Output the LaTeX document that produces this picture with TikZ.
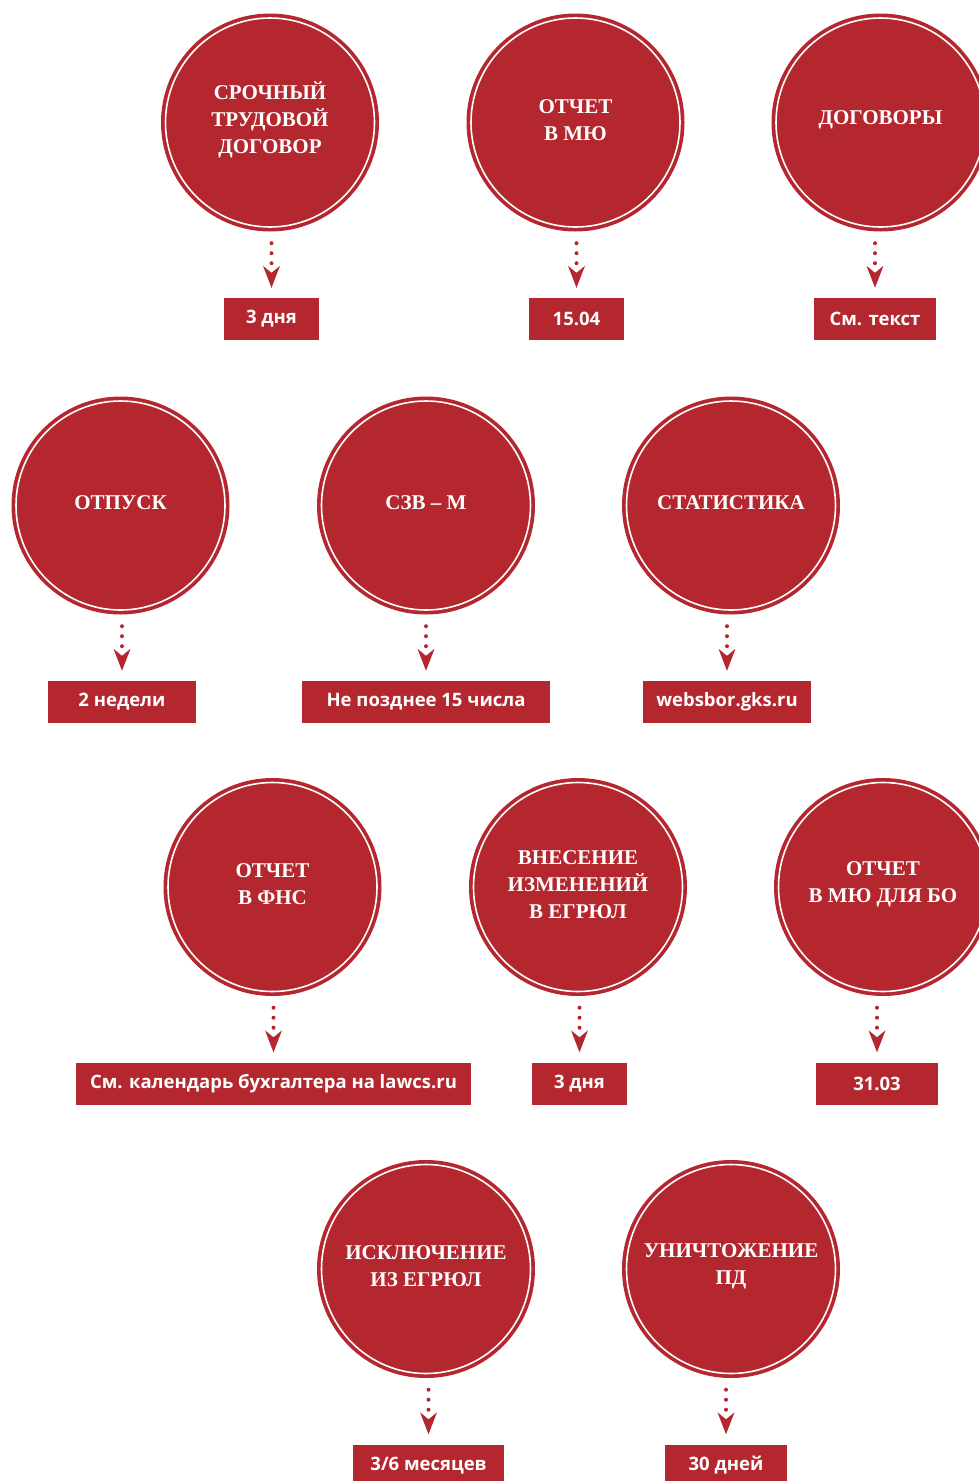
\documentclass[tikz,border=0pt]{standalone}
\usepackage{fontspec}
\setmainfont{Liberation Serif}
\newfontfamily\labfont{Open Sans}
\usetikzlibrary{arrows.meta,calc}
\definecolor{myred}{RGB}{181,39,47}
\newcommand\dounit[7]{%
 \node[disc] (c#1) at (#2,-#3) {};
 \draw[ring] (c#1.center) circle (104.5);
 \node[ctext] (t#1) at ($(c#1.center)+(0,2.5)$) {#4};
 \node[lbox,minimum width=#6pt] (b#1) at (#5,-#3-196.5) {#7};
 \draw[conn] (c#1.south -| b#1) -- (b#1.north);
}
\begin{document}
\begin{tikzpicture}[x=1pt,y=1pt,
  disc/.style={circle,fill=myred,minimum size=218pt,inner sep=0pt},
  ring/.style={draw=white,line width=1.6pt},
  ctext/.style={text=white,font=\bfseries\fontsize{21}{26.8}\selectfont,align=center,inner sep=0pt},
  lbox/.style={fill=myred,text=white,font=\labfont\bfseries\fontsize{18.5}{21}\selectfont,minimum height=42pt,inner sep=0pt},
  conn/.style={myred,line width=4pt,line cap=round,dash pattern=on 0pt off 10pt,shorten <=11.5pt,shorten >=10pt,-{Stealth[length=22pt,width=17pt,inset=7pt,line width=0pt]}}]
\useasboundingbox (0,0) rectangle (979,-1481);
\dounit{1}{270}{122.5}{СРОЧНЫЙ\\ТРУДОВОЙ\\ДОГОВОР}{271.5}{95}{3 дня}
\dounit{2}{575.5}{122.5}{ОТЧЕТ\\В МЮ}{576.5}{95}{15.04}
\dounit{3}{880.5}{122.5}{ДОГОВОРЫ}{875}{122}{См. текст}
\dounit{4}{120.5}{505.5}{ОТПУСК}{122}{148}{2 недели}
\dounit{5}{426}{505.5}{СЗВ – М}{426}{248}{Не позднее 15 числа}
\dounit{6}{731}{505.5}{СТАТИСТИКА}{727}{168}{websbor.gks.ru}
\dounit{7}{272.5}{887}{ОТЧЕТ\\В ФНС}{273.5}{395}{См. календарь бухгалтера на lawcs.ru}
\dounit{8}{578}{887}{ВНЕСЕНИЕ\\ИЗМЕНЕНИЙ\\В ЕГРЮЛ}{579.5}{95}{3 дня}
\dounit{9}{883}{887}{ОТЧЕТ\\В МЮ ДЛЯ БО}{877}{122}{31.03}
\dounit{10}{426}{1269}{ИСКЛЮЧЕНИЕ\\ИЗ ЕГРЮЛ}{428.5}{151}{3/6 месяцев}
\dounit{11}{731}{1269}{УНИЧТОЖЕНИЕ\\ПД}{726}{122}{30 дней}
\end{tikzpicture}
\end{document}
